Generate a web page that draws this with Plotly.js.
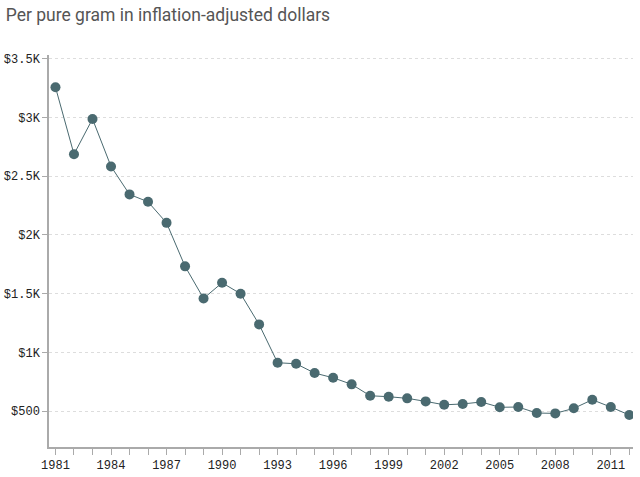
<!DOCTYPE html>
<html>
<head>
<meta charset="utf-8">
<script src="https://cdn.plot.ly/plotly-3.0.1.min.js"></script>
<style>
  html, body { margin: 0; padding: 0; background: #fff; }
  #chart { width: 640px; height: 477px; }
</style>
</head>
<body>
<div id="chart"></div>
<script>
var years = [1981, 1982, 1983, 1984, 1985, 1986, 1987, 1988, 1989, 1990,
             1991, 1992, 1993, 1994, 1995, 1996, 1997, 1998, 1999, 2000,
             2001, 2002, 2003, 2004, 2005, 2006, 2007, 2008, 2009, 2010,
             2011, 2012];
var price = [3256, 2686, 2986, 2582, 2344, 2281, 2102, 1732, 1459, 1592,
             1499, 1238, 912, 903, 824, 784, 728, 631, 623, 609,
             583, 554, 561, 578, 533, 535, 484, 481, 524, 597,
             535, 467];
var yTickVals = [500, 1000, 1500, 2000, 2500, 3000, 3500];
var yTickText = ["$500", "$1K", "$1.5K", "$2K", "$2.5K", "$3K", "$3.5K"];

var tickFont = {family: "Liberation Mono, DejaVu Sans Mono, monospace", size: 12, color: "#222"};

Plotly.newPlot(document.getElementById("chart"),
  [{x: years, y: price, type: "scatter", mode: "lines+markers",
    line: {color: "#4a6a70", width: 1},
    marker: {color: "#4a6a70", size: 10},
    hoverinfo: "x+y"}],
  {width: 640, height: 477,
   margin: {l: 49, r: 7, t: 55, b: 30},
   paper_bgcolor: "#fff", plot_bgcolor: "#fff",
   showlegend: false,
   title: {text: "Per pure gram in inflation-adjusted dollars",
           x: 0.009, xanchor: "left", y: 0.968, yanchor: "middle",
           font: {family: "Roboto, Open Sans, sans-serif", size: 17.5, color: "#555"}},
   xaxis: {range: [1980.65, 2012.2], tickmode: "linear", tick0: 1981, dtick: 3,
           showgrid: false, zeroline: false,
           showline: true, linecolor: "#aaa", linewidth: 1.5,
           ticks: "outside", ticklen: 6, tickcolor: "#aaa", tickwidth: 1,
           minor: {dtick: 1, tick0: 1981, ticks: "outside", ticklen: 6, tickcolor: "#aaa", tickwidth: 1, showgrid: false},
           tickfont: tickFont},
   yaxis: {range: [195, 3530], tickvals: yTickVals, ticktext: yTickText,
           showgrid: true, gridcolor: "#ddd", griddash: "3px,3px", gridwidth: 1,
           zeroline: false,
           showline: true, linecolor: "#aaa", linewidth: 1.5,
           ticks: "outside", ticklen: 5, tickcolor: "#aaa", tickwidth: 1,
           tickfont: tickFont}},
  {displayModeBar: false, responsive: false}
);
</script>
</body>
</html>
